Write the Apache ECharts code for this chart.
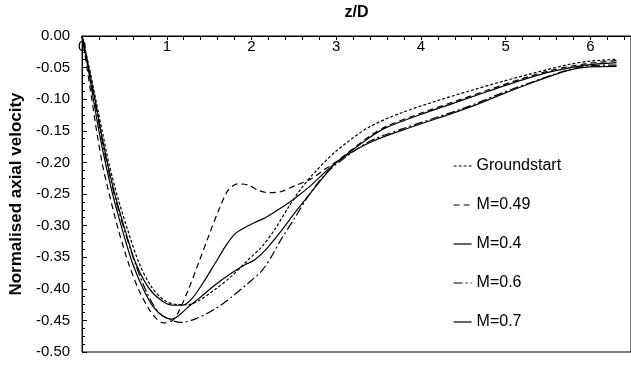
<!DOCTYPE html>
<html>
<head>
<meta charset="utf-8">
<script src="https://cdn.jsdelivr.net/npm/echarts@6/dist/echarts.min.js"></script>
<style>
  html, body { margin: 0; padding: 0; background: #fff; }
  #chart { width: 631px; height: 365px; }
</style>
</head>
<body>
<div id="chart"></div>
<script>
// Normalised axial velocity profiles along z/D for several Mach numbers
var seriesNames = ['Groundstart', 'M=0.49', 'M=0.4', 'M=0.6', 'M=0.7'];

var zGround = [0, 0.086, 0.165, 0.243, 0.322, 0.424, 0.541, 0.675, 0.824, 0.980, 1.137, 1.255, 1.373, 1.569, 1.765, 1.961, 2.118, 2.275, 2.431, 2.588, 2.745, 3.0, 3.39, 3.78, 4.18, 4.57, 4.96, 5.35, 5.75, 5.98, 6.31];
var vGround = [0, -0.051, -0.103, -0.154, -0.205, -0.257, -0.308, -0.360, -0.398, -0.419, -0.425, -0.425, -0.419, -0.401, -0.380, -0.354, -0.334, -0.306, -0.272, -0.241, -0.216, -0.182, -0.144, -0.121, -0.103, -0.087, -0.072, -0.058, -0.045, -0.040, -0.037];

var zM049 = [0, 0.059, 0.118, 0.176, 0.243, 0.333, 0.431, 0.549, 0.667, 0.784, 0.882, 0.961, 1.059, 1.137, 1.255, 1.373, 1.490, 1.608, 1.725, 1.843, 1.961, 2.078, 2.196, 2.353, 2.510, 2.706, 2.863, 3.0, 3.39, 3.59, 3.98, 4.37, 4.76, 5.16, 5.55, 5.94, 6.31];
var vM049 = [0, -0.051, -0.103, -0.154, -0.205, -0.257, -0.308, -0.360, -0.401, -0.431, -0.448, -0.454, -0.451, -0.437, -0.401, -0.360, -0.318, -0.277, -0.244, -0.234, -0.236, -0.244, -0.248, -0.246, -0.237, -0.226, -0.211, -0.199, -0.159, -0.143, -0.123, -0.105, -0.087, -0.069, -0.054, -0.044, -0.039];

var zM04 = [0, 0.078, 0.157, 0.227, 0.306, 0.400, 0.510, 0.635, 0.784, 0.941, 1.078, 1.188, 1.294, 1.431, 1.569, 1.686, 1.804, 1.922, 2.039, 2.157, 2.314, 2.510, 2.706, 2.863, 3.0, 3.39, 3.59, 3.98, 4.37, 4.76, 5.16, 5.55, 5.94, 6.31];
var vM04 = [0, -0.051, -0.103, -0.154, -0.205, -0.257, -0.308, -0.360, -0.398, -0.419, -0.426, -0.426, -0.416, -0.390, -0.360, -0.334, -0.313, -0.303, -0.295, -0.288, -0.275, -0.257, -0.236, -0.216, -0.200, -0.161, -0.145, -0.125, -0.107, -0.089, -0.071, -0.056, -0.046, -0.042];

var zM06 = [0, 0.078, 0.149, 0.220, 0.298, 0.392, 0.502, 0.627, 0.765, 0.902, 1.039, 1.176, 1.333, 1.569, 1.765, 1.961, 2.118, 2.235, 2.353, 2.510, 2.667, 2.824, 3.0, 3.39, 3.78, 4.18, 4.57, 4.96, 5.35, 5.75, 5.98, 6.31];
var vM06 = [0, -0.051, -0.103, -0.154, -0.205, -0.257, -0.308, -0.360, -0.406, -0.437, -0.449, -0.453, -0.448, -0.432, -0.413, -0.391, -0.372, -0.349, -0.321, -0.288, -0.254, -0.226, -0.203, -0.167, -0.147, -0.129, -0.111, -0.090, -0.071, -0.053, -0.047, -0.046];

var zM07 = [0, 0.071, 0.137, 0.204, 0.282, 0.373, 0.478, 0.596, 0.725, 0.843, 0.961, 1.055, 1.137, 1.235, 1.373, 1.569, 1.765, 1.922, 2.039, 2.196, 2.353, 2.510, 2.706, 2.863, 3.0, 3.39, 3.78, 4.18, 4.57, 4.96, 5.35, 5.75, 5.98, 6.31];
var vM07 = [0, -0.051, -0.103, -0.154, -0.205, -0.257, -0.308, -0.360, -0.401, -0.429, -0.444, -0.448, -0.443, -0.431, -0.416, -0.394, -0.375, -0.362, -0.354, -0.334, -0.308, -0.280, -0.247, -0.221, -0.200, -0.169, -0.149, -0.131, -0.113, -0.092, -0.072, -0.054, -0.049, -0.048];

var xTickLabels = ['0', '1', '2', '3', '4', '5', '6'];

function pairs(zs, vs) {
  return zs.map(function (z, i) { return [z, vs[i]]; });
}

var FONT = 'Liberation Sans, Arial, Helvetica, sans-serif';

function lineSeries(name, zs, vs, dash) {
  return {
    name: name,
    type: 'line',
    data: pairs(zs, vs),
    symbol: 'none',
    showSymbol: false,
    smooth: 0.3,
    lineStyle: { color: '#000', width: 1.2, type: dash },
    itemStyle: { color: '#000' },
    emphasis: { disabled: true },
    z: 3
  };
}

var chart = echarts.init(document.getElementById('chart'), null, { renderer: 'canvas' });

chart.setOption({
  animation: false,
  backgroundColor: '#fff',
  // plot frame: the right edge runs just past the canvas so only top, left and bottom show
  grid: {
    left: 82, top: 27.5, right: -2, bottom: 13,
    show: true, borderColor: '#000', borderWidth: 1, backgroundColor: 'transparent'
  },
  legend: {
    orient: 'vertical',
    left: 448,
    top: 153,
    itemWidth: 18,
    itemHeight: 14,
    itemGap: 23,
    data: seriesNames,
    itemStyle: { color: 'rgba(0,0,0,0)', borderWidth: 0, opacity: 0 },
    lineStyle: { width: 1.2 },
    textStyle: { fontFamily: FONT, fontSize: 16, color: '#000' },
    selectedMode: false
  },
  xAxis: {
    type: 'value',
    position: 'top',
    min: 0,
    max: 6.48,
    interval: 0.2,
    name: 'z/D',
    nameLocation: 'middle',
    nameGap: 15,
    nameTextStyle: { fontFamily: FONT, fontSize: 16, fontWeight: 'bold', color: '#000' },
    axisLine: { show: true, onZero: false, lineStyle: { color: '#000', width: 1 } },
    axisTick: { show: true, inside: true, length: 4, lineStyle: { color: '#000' } },
    axisLabel: {
      inside: true,
      margin: 3,
      showMaxLabel: false,
      fontFamily: FONT,
      fontSize: 15,
      color: '#000',
      formatter: function (v) {
        var r = Math.round(v);
        return Math.abs(v - r) < 1e-6 && xTickLabels.indexOf(String(r)) >= 0 ? String(r) : '';
      }
    },
    splitLine: { show: false }
  },
  yAxis: {
    type: 'value',
    min: -0.5,
    max: 0,
    interval: 0.05,
    name: 'Normalised axial velocity',
    nameLocation: 'middle',
    nameRotate: 90,
    nameGap: 54,
    nameTextStyle: { fontFamily: FONT, fontSize: 17, fontWeight: 'bold', color: '#000' },
    axisLine: { show: true, onZero: false, lineStyle: { color: '#000', width: 1 } },
    axisTick: { show: true, inside: true, length: 5, lineStyle: { color: '#000' } },
    minorTick: { show: true, splitNumber: 4, length: 3, lineStyle: { color: '#000' } },
    axisLabel: {
      margin: 12,
      fontFamily: FONT,
      fontSize: 15,
      color: '#000',
      formatter: function (v) { return v.toFixed(2); }
    },
    splitLine: { show: false }
  },
  series: [
    lineSeries('Groundstart', zGround, vGround, [3, 2]),
    lineSeries('M=0.49', zM049, vM049, [6, 4]),
    lineSeries('M=0.4', zM04, vM04, 'solid'),
    lineSeries('M=0.6', zM06, vM06, [9, 3, 2, 3]),
    lineSeries('M=0.7', zM07, vM07, 'solid')
  ]
});
</script>
</body>
</html>
